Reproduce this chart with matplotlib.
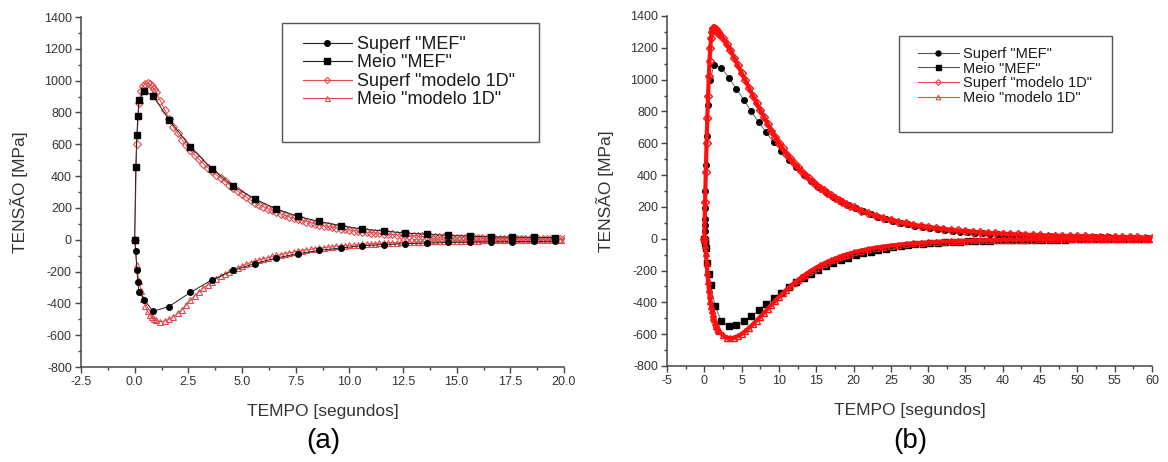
import matplotlib.pyplot as plt
from matplotlib.patches import Rectangle
from matplotlib.ticker import MultipleLocator, FormatStrFormatter

plt.rcParams['font.family'] = ['Liberation Sans', 'DejaVu Sans']

# ---------------- (a) ----------------
# MEF results, sampled about once per second after the peak
t_mef_a = [0, 0.05, 0.1, 0.15, 0.2, 0.45, 0.85, 1.6, 2.6, 3.6, 4.6, 5.6, 6.6, 7.6,
           8.6, 9.6, 10.6, 11.6, 12.6, 13.6, 14.6, 15.6, 16.6, 17.6, 18.6, 19.6]
superf_mef_a = [0, -73, -189, -268, -330, -377, -450, -420, -331, -252, -193, -150, -115, -88,
                -67, -52, -38, -30, -25, -21, -17, -15, -13, -12, -11, -10]
meio_mef_a = [0, 459, 660, 775, 876, 935, 905, 755, 583, 445, 335, 256, 193, 147,
              115, 88, 67, 55, 42, 34, 27, 22, 18, 16, 15, 13]

# 1D model
t_mod_a = [0.0, 0.1, 0.2, 0.3, 0.4, 0.5, 0.6, 0.7, 0.8, 0.9, 1.0,
           1.2, 1.4, 1.6, 1.8, 2.0, 2.2, 2.4, 2.6, 2.8, 3.0,
           3.2, 3.4, 3.6, 3.8, 4.0, 4.2, 4.4, 4.6, 4.8, 5.0,
           5.2, 5.4, 5.6, 5.8, 6.0, 6.2, 6.4, 6.6, 6.8, 7.0,
           7.2, 7.4, 7.6, 7.8, 8.0, 8.2, 8.4, 8.6, 8.8, 9.0,
           9.2, 9.4, 9.6, 9.8, 10.0, 10.2, 10.4, 10.6, 10.8, 11.0,
           11.2, 11.4, 11.6, 11.8, 12.0, 12.2, 12.4, 12.6, 12.8, 13.0,
           13.2, 13.4, 13.6, 13.8, 14.0, 14.2, 14.4, 14.6, 14.8, 15.0,
           15.2, 15.4, 15.6, 15.8, 16.0, 16.2, 16.4, 16.6, 16.8, 17.0,
           17.2, 17.4, 17.6, 17.8, 18.0, 18.2, 18.4, 18.6, 18.8, 19.0,
           19.2, 19.4, 19.6, 19.8, 20.0]
superf_mod_a = [0, 600, 860, 935, 968, 982, 985, 978, 965, 948, 928,
                873, 815, 758, 710, 668, 630, 595, 563, 533, 505,
                479, 454, 431, 409, 388, 367, 347, 327, 306, 286,
                267, 249, 233, 220, 207, 195, 184, 173, 163, 153,
                144, 136, 128, 121, 114, 107, 101, 95, 89, 84,
                79, 74, 70, 66, 62, 58, 54, 51, 48, 45,
                42, 40, 37, 35, 33, 31, 29, 27, 25, 24,
                22, 21, 20, 18, 17, 16, 15, 14, 13, 12,
                12, 11, 10, 10, 9, 9, 8, 8, 7, 7,
                7, 6, 6, 6, 5, 5, 5, 5, 4, 4,
                4, 4, 4, 3, 3]
meio_mod_a = [0, -160, -262, -320, -372, -415, -448, -472, -488, -499, -507,
              -514, -511, -500, -484, -463, -440, -412, -380, -352, -327,
              -304, -283, -264, -246, -230, -215, -201, -188, -176, -165,
              -154, -144, -135, -127, -119, -112, -105, -99, -93, -87,
              -82, -77, -72, -68, -64, -60, -56, -53, -50, -47,
              -44, -41, -39, -37, -35, -33, -31, -29, -27, -26,
              -24, -23, -21, -20, -19, -18, -17, -16, -15, -14,
              -13, -12, -12, -11, -10, -10, -9, -8, -8, -7,
              -7, -6, -6, -5, -5, -4, -4, -4, -3, -3,
              -3, -2, -2, -2, -1, -1, -1, 0, 0, 0,
              0, 1, 1, 1, 1]

# ---------------- (b) ----------------
t_superf_mef_b = [0, 0.02, 0.04, 0.06, 0.08, 0.1, 0.15, 0.2, 0.3, 0.45, 0.8, 1.3,
                  2.3, 3.3, 4.3, 5.3, 6.3, 7.3, 8.3, 9.3, 10.3, 11.3,
                  12.3, 13.3, 14.3, 15.3, 16.3, 17.3, 18.3, 19.3, 20.3, 21.3,
                  22.3, 23.3, 24.3, 25.3, 26.3, 27.3, 28.3, 29.3, 30.3, 31.3,
                  32.3, 33.3, 34.3, 35.3, 36.3, 37.3, 38.3, 39.3, 40.3, 41.3,
                  42.3, 43.3, 44.3, 45.3, 46.3, 47.3, 48.3, 49.3, 50.3, 51.3,
                  52.3, 53.3, 54.3, 55.3, 56.3, 57.3, 58.3, 59.3]
superf_mef_b = [0, 4, 46, 88, 124, 193, 297, 461, 643, 843, 1000, 1094,
                1075, 1012, 942, 872, 800, 733, 668, 606, 550, 497,
                448, 403, 362, 326, 293, 264, 238, 214, 192, 172,
                154, 138, 124, 111, 100, 90, 81, 73, 66, 60,
                54, 49, 44, 40, 36, 33, 30, 27, 25, 23,
                21, 19, 17, 16, 15, 14, 13, 12, 11, 10,
                9, 9, 8, 7, 7, 6, 6, 5]
t_meio_mef_b = [0, 0.05, 0.1, 0.2, 0.4, 0.6, 0.85, 1.43,
                2.3, 3.3, 4.3, 5.3, 6.3, 7.3, 8.3, 9.3, 10.3, 11.3,
                12.3, 13.3, 14.3, 15.3, 16.3, 17.3, 18.3, 19.3, 20.3, 21.3,
                22.3, 23.3, 24.3, 25.3, 26.3, 27.3, 28.3, 29.3, 30.3, 31.3,
                32.3, 33.3, 34.3, 35.3, 36.3, 37.3, 38.3, 39.3, 40.3, 41.3,
                42.3, 43.3, 44.3, 45.3, 46.3, 47.3, 48.3, 49.3, 50.3, 51.3,
                52.3, 53.3, 54.3, 55.3, 56.3, 57.3, 58.3, 59.3]
meio_mef_b = [0, -10, -25, -60, -150, -220, -289, -421,
              -520, -551, -543, -520, -487, -450, -412, -375, -340, -306,
              -275, -246, -219, -195, -173, -153, -135, -119, -105, -92,
              -81, -71, -62, -54, -47, -41, -36, -32, -28, -25,
              -22, -20, -18, -16, -14, -13, -12, -11, -10, -9,
              -8, -8, -7, -6, -6, -5, -5, -4, -4, -4,
              -3, -3, -3, -2, -2, -2, -2, -1]

t_mod_b = [0.0, 0.1, 0.2, 0.3, 0.4, 0.5, 0.6, 0.7, 0.8, 0.9, 1.0,
           1.1, 1.2, 1.3, 1.4, 1.5, 1.6, 1.7, 1.8, 1.9, 2.0,
           2.5, 3.0, 3.5, 4.0, 4.5, 5.0, 5.5, 6.0, 6.5, 7.0,
           7.5, 8.0, 8.5, 9.0, 9.5, 10.0, 10.5, 11.0, 11.5, 12.0,
           12.5, 13.0, 13.5, 14.0, 14.5, 15.0, 15.5, 16.0, 16.5, 17.0,
           17.5, 18.0, 18.5, 19.0, 19.5, 20.0,
           21, 22, 23, 24, 25, 26, 27, 28, 29, 30,
           31, 32, 33, 34, 35, 36, 37, 38, 39, 40,
           41, 42, 43, 44, 45, 46, 47, 48, 49, 50,
           51, 52, 53, 54, 55, 56, 57, 58, 59, 60]
superf_mod_b = [0, 230, 420, 600, 760, 900, 1020, 1120, 1200, 1260, 1300,
                1318, 1325, 1324, 1321, 1317, 1312, 1306, 1300, 1294, 1288,
                1262, 1225, 1185, 1138, 1090, 1042, 995, 948, 900, 853,
                808, 764, 721, 680, 640, 603, 568, 535, 505, 476,
                449, 424, 401, 379, 358, 339, 321, 304, 288, 273,
                259, 245, 232, 220, 208, 197,
                177, 159, 143, 129, 117, 106, 96, 87, 80, 73,
                67, 61, 56, 52, 48, 44, 40, 37, 34, 32,
                29, 27, 25, 23, 22, 20, 19, 18, 17, 16,
                15, 14, 13, 12, 11, 10, 9, 8, 7, 6]
meio_mod_b = [0, -40, -90, -150, -210, -265, -315, -355, -390, -420, -447,
              -470, -490, -507, -522, -535, -547, -557, -566, -574, -581,
              -607, -622, -626, -622, -612, -598, -580, -560, -538, -514,
              -490, -465, -440, -415, -390, -366, -343, -321, -300, -280,
              -261, -243, -226, -210, -195, -181, -168, -156, -145, -135,
              -125, -116, -108, -100, -93, -86,
              -74, -64, -56, -49, -43, -38, -33, -29, -26, -23,
              -20, -18, -16, -14, -12, -11, -10, -9, -8, -7,
              -6, -6, -5, -5, -4, -4, -3, -3, -3, -2,
              -2, -2, -1, -1, -1, -1, 0, 0, 0, 0]

labels = ['Superf "MEF"', 'Meio "MEF"', 'Superf "modelo 1D"', 'Meio "modelo 1D"']

W, H = 1168, 462
fig = plt.figure(figsize=(W / 100, H / 100), dpi=100)
ax_a = fig.add_axes([81 / W, 1 - 367 / H, 483 / W, 350 / H])
ax_b = fig.add_axes([667 / W, 1 - 366 / H, 485 / W, 350 / H])


def style_axes(ax, xlim, xmajor, xfmt):
    ax.set_xlim(*xlim)
    ax.set_ylim(-800, 1400)
    ax.xaxis.set_major_locator(MultipleLocator(xmajor))
    ax.xaxis.set_minor_locator(MultipleLocator(xmajor / 2))
    ax.yaxis.set_major_locator(MultipleLocator(200))
    ax.yaxis.set_minor_locator(MultipleLocator(100))
    ax.xaxis.set_major_formatter(FormatStrFormatter(xfmt))
    ax.yaxis.set_major_formatter(FormatStrFormatter('%d'))
    for s in ['top', 'right']:
        ax.spines[s].set_visible(False)
    for s in ['left', 'bottom']:
        ax.spines[s].set_color('#444444')
        ax.spines[s].set_linewidth(1.1)
    ax.tick_params(which='major', direction='out', length=4.5, width=1, color='#444444',
                   labelsize=9, labelcolor='#333333', pad=2)
    ax.tick_params(which='minor', direction='out', length=2.5, width=1, color='#444444')
    ax.set_xlabel('TEMPO [segundos]', fontsize=12.5, color='#333333')
    ax.set_ylabel('TENSÃO [MPa]', fontsize=12.5, color='#333333')
    ax.xaxis.set_label_coords(0.5, -0.105)
    ax.yaxis.set_label_coords(-0.11, 0.5)


style_axes(ax_a, (-2.5, 20), 2.5, '%.1f')
style_axes(ax_b, (-5, 60), 5, '%d')

red_a = '#e34a4f'
# panel (a): model first, MEF on top
ax_a.plot(t_mod_a, superf_mod_a, color=red_a, lw=0.7, marker='D', ms=4,
          mfc='none', mec=red_a, mew=0.8)
ax_a.plot(t_mod_a, meio_mod_a, color=red_a, lw=0.7, marker='^', ms=4.5,
          mfc='none', mec=red_a, mew=0.8)
ax_a.plot(t_mef_a, superf_mef_a, color='#222222', lw=0.7, marker='o', ms=4,
          mfc='black', mec='black')
ax_a.plot(t_mef_a, meio_mef_a, color='#222222', lw=0.7, marker='s', ms=4,
          mfc='black', mec='black')

# panel (b): MEF first, model drawn over it
red_b = '#ff1010'
ax_b.plot(t_superf_mef_b, superf_mef_b, color='#666666', lw=0.7, marker='o', ms=4,
          mfc='black', mec='black')
ax_b.plot(t_meio_mef_b, meio_mef_b, color='#666666', lw=0.7, marker='s', ms=4,
          mfc='black', mec='black')
ax_b.plot(t_mod_b, superf_mod_b, color=red_b, lw=3, marker='D', ms=3.8,
          mfc='none', mec=red_b, mew=1.0)
ax_b.plot(t_mod_b, meio_mod_b, color=red_b, lw=3, marker='^', ms=4.2,
          mfc='none', mec=red_b, mew=1.0)

# legend frames drawn by hand, entries placed inside
fig.add_artist(Rectangle((282 / W, 1 - 142 / H), 257 / W, 119 / H, transform=fig.transFigure,
                         fill=False, ec='#555555', lw=1))
fig.add_artist(Rectangle((899 / W, 1 - 132 / H), 213 / W, 96 / H, transform=fig.transFigure,
                         fill=False, ec='#555555', lw=1))

leg_a_handles = [
    plt.Line2D([], [], color='#222222', lw=0.8, marker='o', ms=4, mfc='black', mec='black'),
    plt.Line2D([], [], color='#222222', lw=0.8, marker='s', ms=4, mfc='black', mec='black'),
    plt.Line2D([], [], color=red_a, lw=0.8, marker='D', ms=3.2, mfc='none', mec=red_a, mew=0.8),
    plt.Line2D([], [], color=red_a, lw=0.8, marker='^', ms=3.6, mfc='none', mec=red_a, mew=0.8),
]
ax_a.legend(leg_a_handles, labels, loc='upper left', bbox_to_anchor=(303 / W, 1 - 36 / H),
            bbox_transform=fig.transFigure, frameon=False, borderpad=0, borderaxespad=0,
            fontsize=13, handlelength=2.7, handletextpad=0.3, labelspacing=0.08,
            numpoints=1, labelcolor='#1a1a1a')

leg_b_handles = [
    plt.Line2D([], [], color='#555555', lw=0.8, marker='o', ms=3.6, mfc='black', mec='black'),
    plt.Line2D([], [], color='#555555', lw=0.8, marker='s', ms=3.6, mfc='black', mec='black'),
    plt.Line2D([], [], color=red_a, lw=0.8, marker='D', ms=3, mfc='none', mec=red_a, mew=0.8),
    plt.Line2D([], [], color=red_a, lw=0.8, marker='^', ms=3.4, mfc='none', mec=red_a, mew=0.8),
]
ax_b.legend(leg_b_handles, labels, loc='upper left', bbox_to_anchor=(918 / W, 1 - 47 / H),
            bbox_transform=fig.transFigure, frameon=False, borderpad=0, borderaxespad=0,
            fontsize=10.5, handlelength=2.8, handletextpad=0.3, labelspacing=0.04,
            numpoints=1, labelcolor='#1a1a1a')

fig.text(323 / W, 1 - 441 / H, '(a)', fontsize=20, ha='center', va='center', color='black')
fig.text(910 / W, 1 - 441 / H, '(b)', fontsize=20, ha='center', va='center', color='black')

fig.savefig('out.png', dpi=100)
